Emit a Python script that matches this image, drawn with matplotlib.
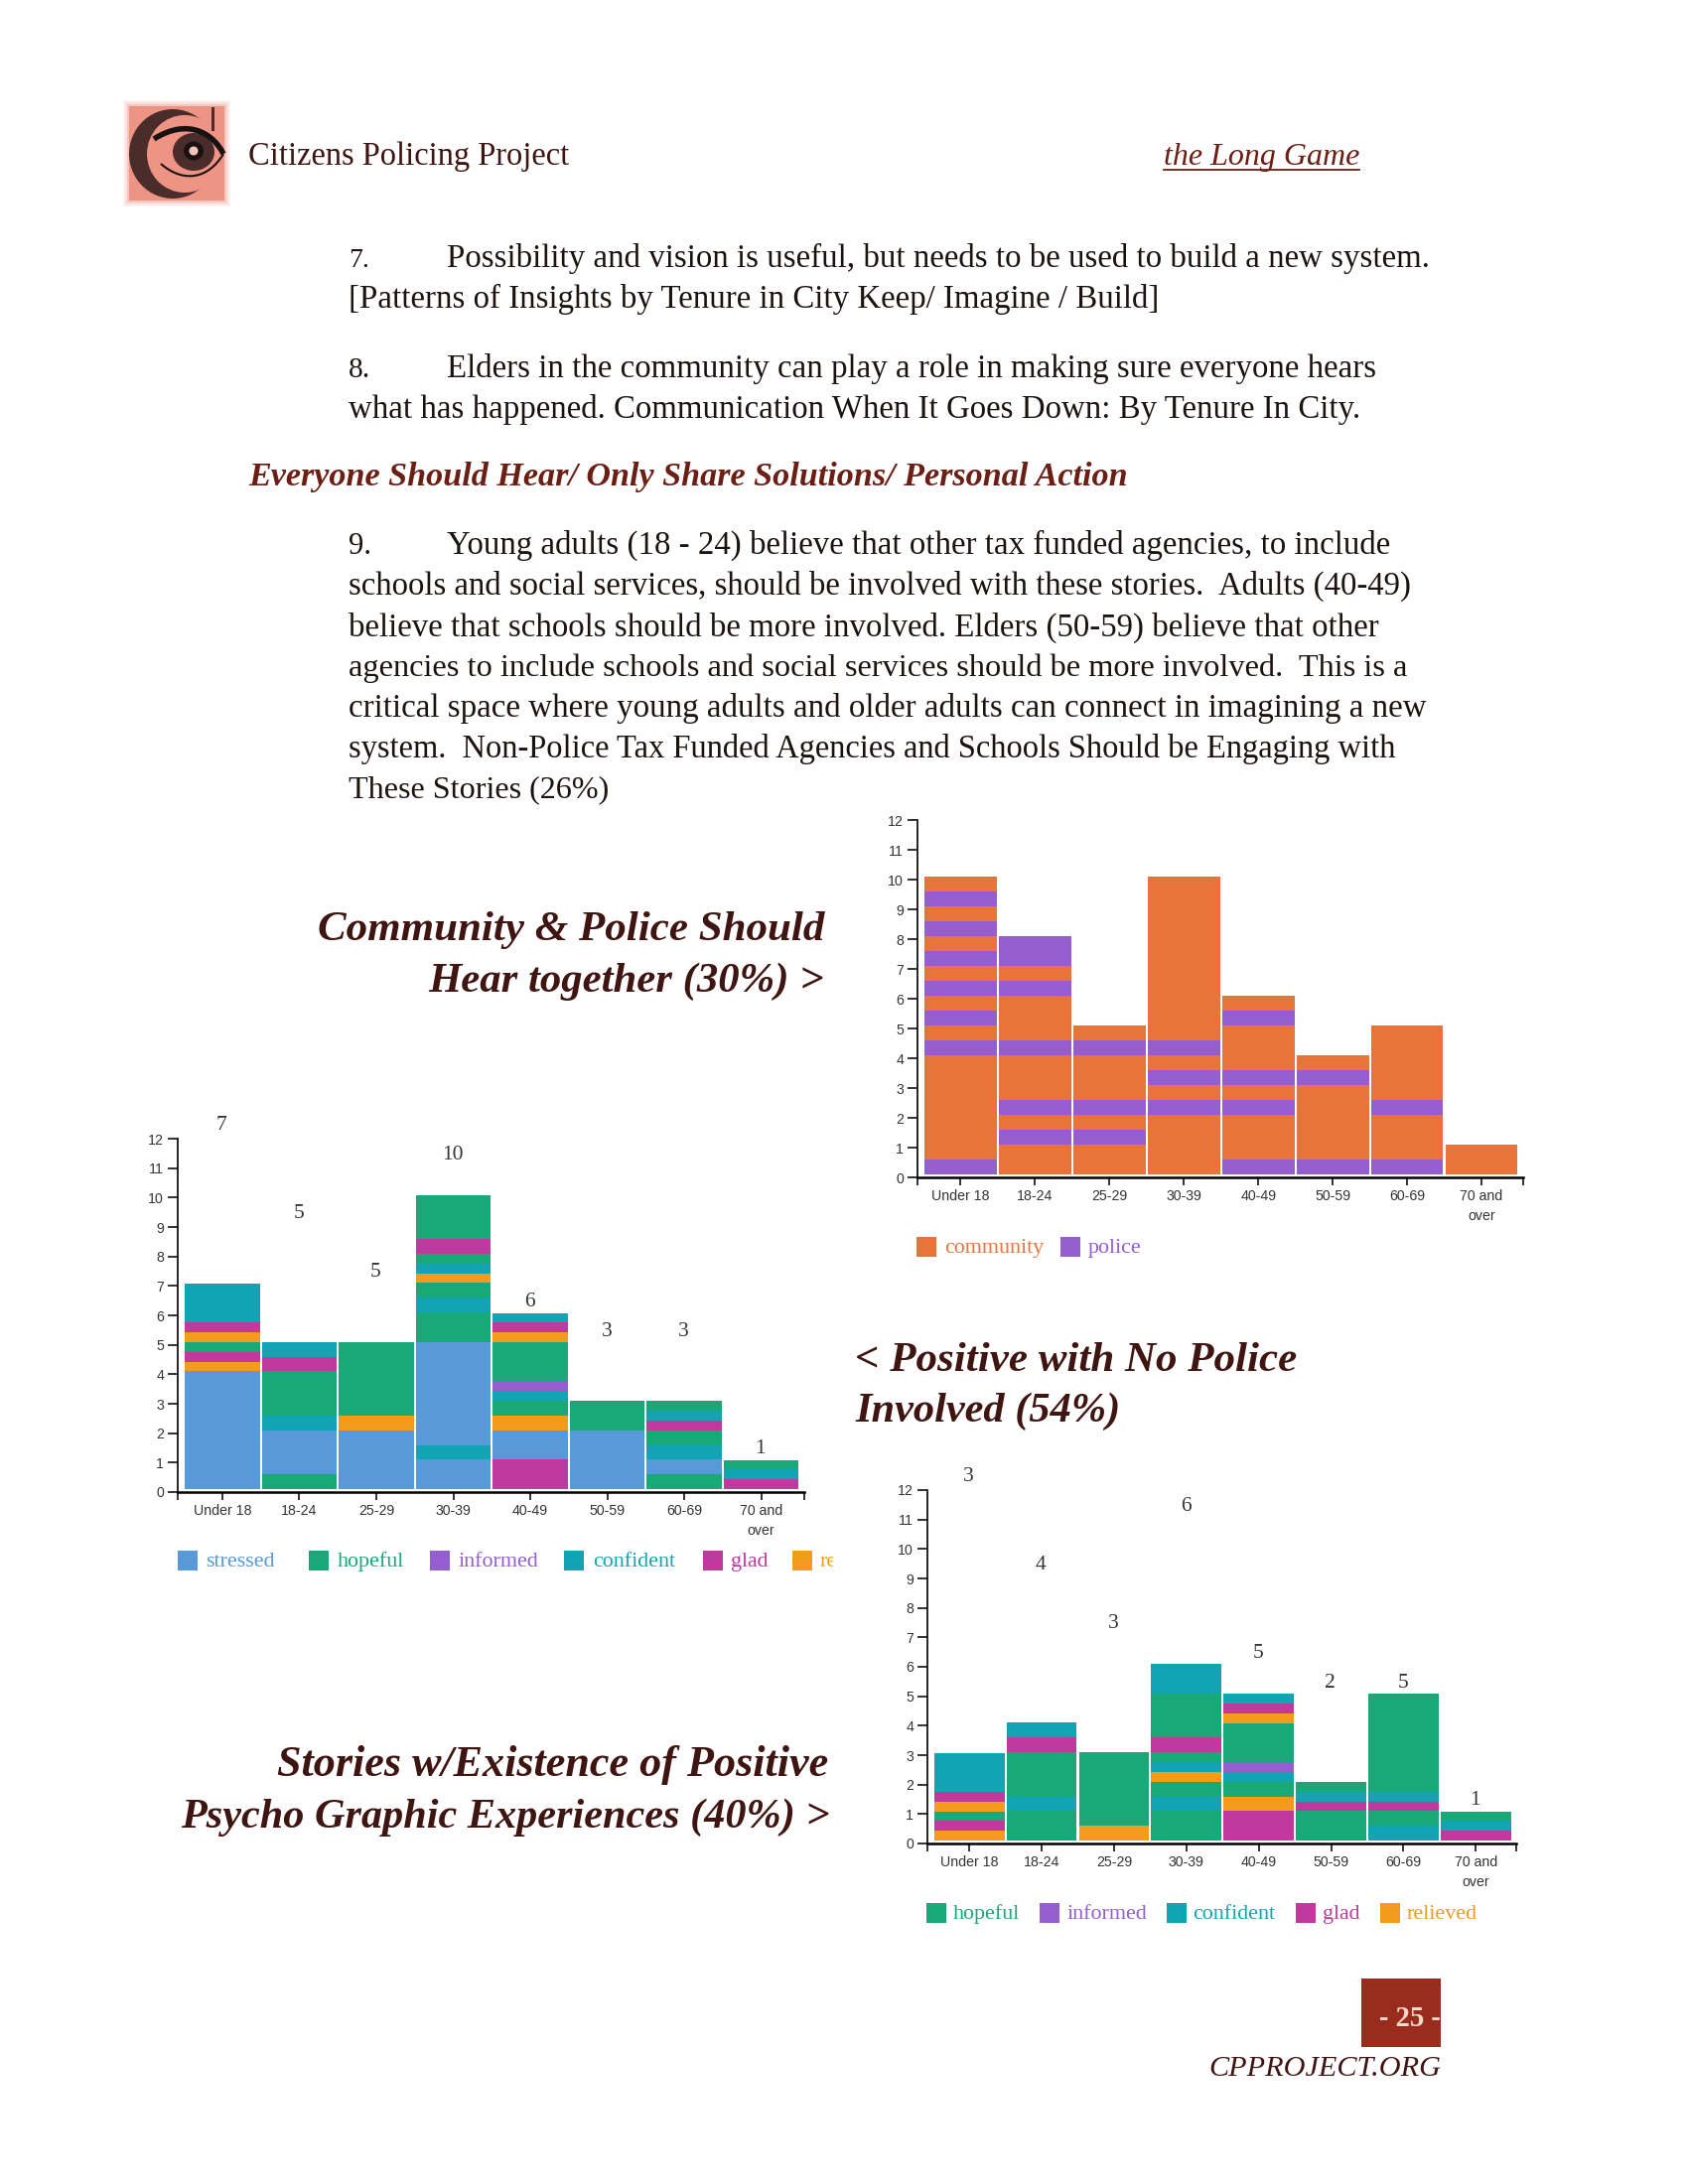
import matplotlib
matplotlib.use('Agg')
from matplotlib import pyplot as plt
from matplotlib.patches import Rectangle, Ellipse, Wedge, PathPatch
from matplotlib.path import Path

plt.rcParams['font.family'] = ['Liberation Sans', 'DejaVu Sans']

ages = ['Under 18', '18-24', '25-29', '30-39', '40-49', '50-59', '60-69', '70 and\nover']

colors = {'community': '#E8743B', 'police': '#945ECF', 'stressed': '#5899DA',
          'hopeful': '#19A979', 'informed': '#945ECF', 'confident': '#13A4B4',
          'glad': '#BF399E', 'relieved': '#F29B1D'}

# stacks read bottom to top, one list per age group
stacks_a = [
    [('police', .5), ('community', 3.5), ('police', .5), ('community', .5), ('police', .5),
     ('community', .5), ('police', .5), ('community', .5), ('police', .5), ('community', .5),
     ('police', .5), ('community', .5), ('police', .5), ('community', .5)],
    [('community', 1), ('police', .5), ('community', .5), ('police', .5), ('community', 1.5),
     ('police', .5), ('community', 1.5), ('police', .5), ('community', .5), ('police', 1)],
    [('community', 1), ('police', .5), ('community', .5), ('police', .5), ('community', 1.5),
     ('police', .5), ('community', .5)],
    [('community', 2), ('police', .5), ('community', .5), ('police', .5), ('community', .5),
     ('police', .5), ('community', 5.5)],
    [('police', .5), ('community', 1.5), ('police', .5), ('community', .5), ('police', .5),
     ('community', 1.5), ('police', .5), ('community', .5)],
    [('police', .5), ('community', 2.5), ('police', .5), ('community', .5)],
    [('police', .5), ('community', 1.5), ('police', .5), ('community', 2.5)],
    [('community', 1)],
]

stacks_b = [
    [('stressed', 4), ('relieved', .33), ('glad', .33), ('hopeful', .33), ('relieved', .33),
     ('glad', .33), ('confident', 1.33)],
    [('hopeful', .5), ('stressed', 1.5), ('confident', .5), ('hopeful', 1.5), ('glad', .5),
     ('confident', .5)],
    [('stressed', 2), ('relieved', .5), ('hopeful', 2.5)],
    [('stressed', 1), ('confident', .5), ('stressed', 3.5), ('hopeful', 1), ('confident', .5),
     ('hopeful', .5), ('relieved', .33), ('confident', .33), ('hopeful', .33), ('glad', .5),
     ('hopeful', 1.5)],
    [('glad', 1), ('stressed', 1), ('relieved', .5), ('hopeful', .5), ('confident', .33),
     ('informed', .33), ('hopeful', 1.33), ('relieved', .33), ('glad', .33), ('confident', .33)],
    [('stressed', 2), ('hopeful', 1)],
    [('hopeful', .5), ('stressed', .5), ('confident', .5), ('hopeful', .5), ('glad', .33),
     ('confident', .33), ('hopeful', .33)],
    [('glad', .33), ('confident', .33), ('hopeful', .33)],
]

stacks_c = [
    [('relieved', .33), ('glad', .33), ('hopeful', .33), ('relieved', .33), ('glad', .33),
     ('confident', 1.33)],
    [('hopeful', 1), ('confident', .5), ('hopeful', 1.5), ('glad', .5), ('confident', .5)],
    [('relieved', .5), ('hopeful', 2.5)],
    [('hopeful', 1), ('confident', .5), ('hopeful', .5), ('relieved', .33), ('confident', .33),
     ('hopeful', .33), ('glad', .5), ('hopeful', 1.5), ('confident', 1)],
    [('glad', 1), ('relieved', .5), ('hopeful', .5), ('confident', .33), ('informed', .33),
     ('hopeful', 1.33), ('relieved', .33), ('glad', .33), ('confident', .33)],
    [('hopeful', 1), ('glad', .33), ('confident', .33), ('hopeful', .33)],
    [('confident', .5), ('hopeful', .5), ('glad', .33), ('confident', .33), ('hopeful', 3.33)],
    [('glad', .33), ('confident', .33), ('hopeful', .33)],
]

totals_b = [7, 5, 5, 10, 6, 3, 3, 1]
totals_c = [3, 4, 3, 6, 5, 2, 5, 1]
total_heights = [12.45, 9.45, 7.45, 11.45, 6.45, 5.45, 5.45, 1.45]

legend_a = ['community', 'police']
legend_b = ['stressed', 'hopeful', 'informed', 'confident', 'glad', 'relieved']
legend_c = ['hopeful', 'informed', 'confident', 'glad', 'relieved']

DARK = '#3f1512'
RED = '#6b1f14'
BODY = '#1c1210'

fig = plt.figure(figsize=(17, 22), dpi=100)
page = fig.add_axes([0, 0, 1, 1])
page.set_xlim(0, 1700)
page.set_ylim(2200, 0)
page.axis('off')
renderer = fig.canvas.get_renderer()


def put(s, x0, x1, y, color=BODY, weight='normal', style='normal', fs=20):
    # scale the font so the line spans the same width as in the scan
    t = page.text(x0, y + 3, s, family=['Liberation Serif', 'DejaVu Serif'], fontsize=fs,
                  color=color, weight=weight, style=style, va='baseline', ha='left')
    t.set_fontsize(fs * (x1 - x0) / t.get_window_extent(renderer).width)
    return t


def chart(stacks, left, right, y0, y12, totals=None):
    ax = fig.add_axes([left / 1700, 1 - y0 / 2200, (right - left) / 1700, (y0 - y12) / 2200])
    ax.patch.set_visible(False)
    for i, stack in enumerate(stacks):
        bottom = 0.1
        for name, h in stack:
            ax.bar(i, h, 0.97, bottom=bottom, color=colors[name], linewidth=0)
            bottom += h
    ax.set_xlim(-0.58, 7.56)
    ax.set_ylim(0, 12)
    ax.set_yticks(range(13))
    ax.set_xticks(range(8))
    ax.set_xticklabels(ages, linespacing=1.6)
    ax.set_xticks([-0.58, 7.56], minor=True)
    ax.tick_params(axis='y', length=7, width=1.2, color='#111111', labelsize=10.2,
                   labelcolor='#333333', pad=3)
    ax.tick_params(axis='x', which='both', length=5.5, width=1.2, color='#111111',
                   labelsize=10.2, labelcolor='#333333', pad=3)
    for side in ['top', 'right']:
        ax.spines[side].set_visible(False)
    ax.spines['left'].set_linewidth(1.2)
    ax.spines['bottom'].set_linewidth(1.8)
    if totals:
        for i, n in enumerate(totals):
            ax.text(i - 0.01, total_heights[i], str(n), family='Liberation Serif', fontsize=15.5,
                    color='#333333', ha='center', va='center')
    return ax


def legend(names, xs, text_xs, top, clip=None):
    for name, x, tx in zip(names, xs, text_xs):
        page.add_patch(Rectangle((x, top), 20.5, 19.5, color=colors[name], linewidth=0))
        t = page.text(tx, top + 16, name, family='Liberation Serif', fontsize=15.8,
                      color=colors[name], va='baseline')
        if clip and name == 'relieved':
            t.set_clip_on(True)
            t.set_clip_path(Rectangle((tx, top - 10), clip - tx, 40, transform=page.transData))


# logo, soft edge first
for grow, alpha in [(6, .12), (4, .2), (2, .3)]:
    page.add_patch(Rectangle((130 - grow, 107 - grow), 96 + 2 * grow, 95 + 2 * grow,
                             color='#ee9484', alpha=alpha, linewidth=0))
page.add_patch(Rectangle((130, 107), 96, 95, color='#ee9484', linewidth=0))
page.add_patch(Ellipse((174, 155), 88, 90, color='#4a2c2a', linewidth=0))
page.add_patch(Ellipse((186, 155), 76, 78, color='#ee9484', linewidth=0))
page.add_patch(Wedge((176, 155), 47, -35, 28, color='#ee9484', linewidth=0))
page.add_patch(Rectangle((213, 108), 3, 24, color='#4a2c2a', linewidth=0))
page.add_patch(Ellipse((195, 153), 42, 38, color='#4a2c2a', linewidth=0))
page.add_patch(Ellipse((195, 152), 20, 19, color='#1a1212', linewidth=0))
page.add_patch(Ellipse((195, 152), 9, 9, color='#f1c6b8', linewidth=0))
page.add_patch(PathPatch(Path([(155, 140), (190, 118), (215, 135), (225, 155)],
                              [Path.MOVETO, Path.CURVE4, Path.CURVE4, Path.CURVE4]),
                         fill=False, edgecolor='#1a1212', linewidth=4))
page.add_patch(PathPatch(Path([(162, 165), (185, 185), (210, 180), (225, 155)],
                              [Path.MOVETO, Path.CURVE4, Path.CURVE4, Path.CURVE4]),
                         fill=False, edgecolor='#1a1212', linewidth=1.5))

# page text
put('Citizens Policing Project', 250, 574, 163, color=DARK)
put('the Long Game', 1172, 1369, 163, color=RED, style='italic')
page.plot([1172, 1369], [171, 171], color=RED, lw=1.3)

put('7.', 351, 372, 266)
put('Possibility and vision is useful, but needs to be used to build a new system.', 450, 1439, 266)
put('[Patterns of Insights by Tenure in City Keep/ Imagine / Build]', 351, 1166, 307)
put('8.', 351, 373, 377)
put('Elders in the community can play a role in making sure everyone hears', 450, 1387, 377)
put('what has happened. Communication When It Goes Down: By Tenure In City.', 351, 1370, 418)
put('Everyone Should Hear/ Only Share Solutions/ Personal Action', 250, 1136, 486,
    color=RED, weight='bold', style='italic')
put('9.', 351, 374, 555)
put('Young adults (18 - 24) believe that other tax funded agencies, to include', 450, 1397, 555)
put('schools and social services, should be involved with these stories.  Adults (40-49)', 351, 1421, 596)
put('believe that schools should be more involved. Elders (50-59) believe that other', 351, 1387, 638)
put('agencies to include schools and social services should be more involved.  This is a', 351, 1419, 678)
put('critical space where young adults and older adults can connect in imagining a new', 351, 1439, 719)
put('system.  Non-Police Tax Funded Agencies and Schools Should be Engaging with', 351, 1407, 760)
put('These Stories (26%)', 351, 613, 800)

put('Community & Police Should', 320, 830, 944, color=DARK, weight='bold', style='italic')
put('Hear together (30%) >', 431, 830, 996, color=DARK, weight='bold', style='italic')
put('< Positive with No Police', 861, 1307, 1378, color=DARK, weight='bold', style='italic')
put('Involved (54%)', 861, 1128, 1429, color=DARK, weight='bold', style='italic')
put('Stories w/Existence of Positive', 279, 835, 1786, color=DARK, weight='bold', style='italic')
put('Psycho Graphic Experiences (40%) >', 182, 835, 1838, color=DARK, weight='bold', style='italic')

# charts
chart(stacks_a, 924, 1534, 1186, 826)
chart(stacks_b, 179, 810, 1503, 1147, totals_b)
chart(stacks_c, 934, 1527, 1857, 1501, totals_c)

legend(legend_a, [923, 1068], [951, 1096], 1246)
legend(legend_b, [179, 311, 433, 568, 708, 798], [207, 340, 462, 597, 736, 826], 1562, clip=839)
legend(legend_c, [933, 1047, 1175, 1305, 1390], [960, 1075, 1201, 1332, 1417], 1917)

# footer
page.add_patch(Rectangle((1371, 1993), 80, 69, color='#9a2c1e', linewidth=0))
put('- 25 -', 1389, 1451, 2038, color='#f8d8c8', weight='bold')
put('CPPROJECT.ORG', 1217, 1451, 2088, color=DARK, style='italic')

fig.savefig('out.png', dpi=100)
